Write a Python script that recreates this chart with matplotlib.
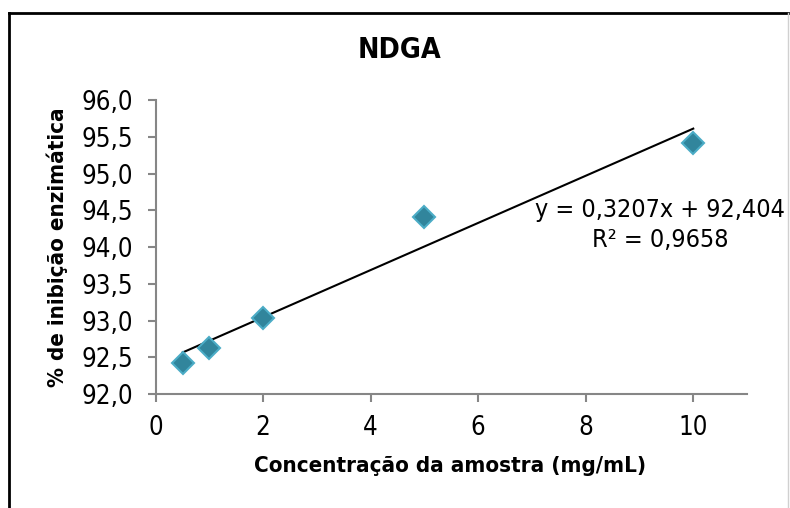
import matplotlib
matplotlib.use("Agg")
import matplotlib.pyplot as plt
from matplotlib.lines import Line2D
from matplotlib.ticker import FuncFormatter, MultipleLocator

# dados
concentracao = [0.5, 1, 2, 5, 10]
inibicao = [92.42, 92.63, 93.04, 94.41, 95.42]
coef_a = 0.3207
coef_b = 92.404
r2 = 0.9658

plt.rcParams['font.family'] = ['DejaVu Sans']
plt.rcParams['font.stretch'] = 'condensed'

fig = plt.figure(figsize=(7.9, 5.08), dpi=100)
ax = fig.add_axes([0.197, 0.2244, 0.7486, 0.5787])

ax.plot(concentracao, inibicao, linestyle="none", marker="D", markersize=11,
        markerfacecolor="#31859C", markeredgecolor="#4BACC6", markeredgewidth=1.5, zorder=3)

xt = [concentracao[0], concentracao[-1]]
ax.plot(xt, [coef_a * x + coef_b for x in xt], color="black", linewidth=1.5, zorder=2)

eq = "y = {}x + {}\nR² = {}".format(str(coef_a).replace(".", ","),
                                   str(coef_b).replace(".", ","),
                                   str(r2).replace(".", ","))
ax.text(9.38, 94.30, eq, ha="center", va="center", multialignment="center",
        fontsize=18, linespacing=1.3)

ax.set_xlim(0, 11)
ax.set_ylim(92, 96)
ax.yaxis.set_major_locator(MultipleLocator(0.5))
ax.set_xticks(range(0, 11, 2))
ax.yaxis.set_major_formatter(FuncFormatter(lambda v, p: "{:.1f}".format(v).replace(".", ",")))

for s in ["top", "right"]:
    ax.spines[s].set_visible(False)
for s in ["left", "bottom"]:
    ax.spines[s].set_color("#868686")
    ax.spines[s].set_linewidth(1.5)
ax.tick_params(axis="both", direction="out", length=6, width=1.5, color="#868686",
               labelsize=18.5)
ax.tick_params(axis="y", pad=10)
ax.tick_params(axis="x", pad=9)

ax.set_xlabel("Concentração da amostra (mg/mL)", fontsize=16, fontweight="bold")
ax.set_ylabel("% de inibição enzimática", fontsize=16, fontweight="bold")
ax.xaxis.set_label_coords(0.498, -0.245)
ax.xaxis.label.set_va("center")
ax.yaxis.set_label_coords(-0.167, 0.5)
ax.yaxis.label.set_va("center")

fig.text(0.506, 0.901, "NDGA", ha="center", va="center", fontsize=20.5, fontweight="bold")

# moldura da area do grafico
fig.add_artist(Line2D([0.012, 0.012], [0, 0.975], color="black", linewidth=2))
fig.add_artist(Line2D([0.012, 0.998], [0.975, 0.975], color="black", linewidth=2))
fig.add_artist(Line2D([0.998, 0.998], [0, 0.975], color="#d0d0d0", linewidth=1))

fig.savefig("out.png")
